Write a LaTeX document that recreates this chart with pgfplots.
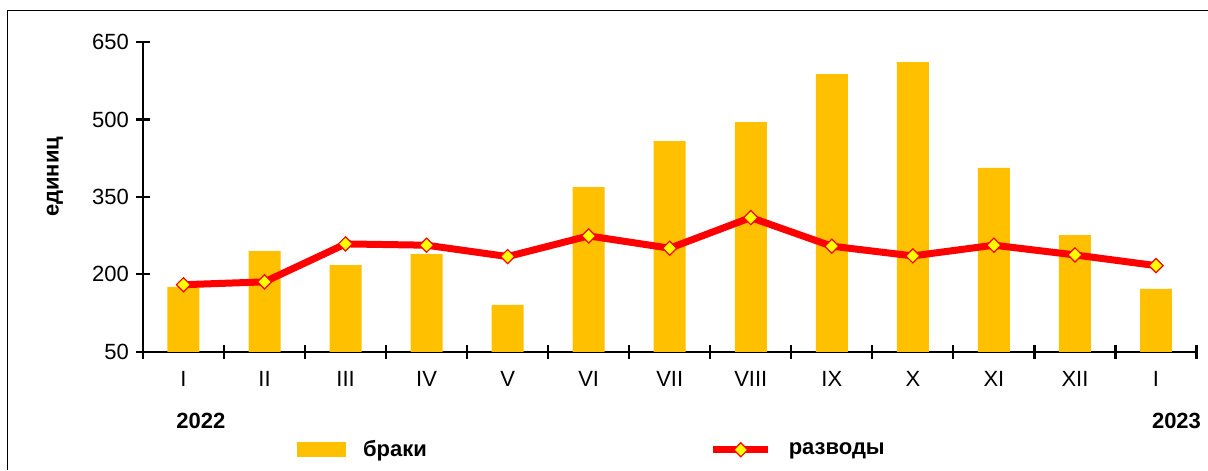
\documentclass[border=0pt]{standalone}
\usepackage{pgfplots}
\pgfplotsset{compat=1.18}
\usepackage{fontspec}
\setmainfont{Liberation Sans}
\definecolor{bargold}{HTML}{FFC000}
\definecolor{linered}{HTML}{FF0000}
\definecolor{markyellow}{HTML}{FFFF00}
\pgfplotsset{
  barlegend/.style={legend image code/.code={\fill[bargold] (0pt,-3.75pt) rectangle (24.5pt,3.75pt);}},
  linelegend/.style={legend image code/.code={\draw[mark repeat=2,mark phase=2,##1] plot coordinates {(0pt,0pt) (13.75pt,0pt) (27.5pt,0pt)};}},
}
\begin{document}
\begin{tikzpicture}
\path (0,0) rectangle (604pt,235pt);
\draw[line width=0.5pt] (3.6pt,0) -- (3.6pt,229.5pt) -- (604pt,229.5pt);
\begin{axis}[
  at={(71.5pt,59pt)}, anchor=south west,
  width=527pt, height=155pt, scale only axis,
  xmin=-0.5, xmax=12.5, ymin=50, ymax=650,
  axis lines*=left,
  axis line style={line width=1.2pt},
  every tick/.style={line width=1.1pt, black},
  tick align=center,
  major tick length=7pt,
  ytick={50,200,350,500,650},
  xtick={-0.5,0.5,...,12.5},
  xticklabels={},
  extra x ticks={0,1,2,3,4,5,6,7,8,9,10,11,12},
  extra x tick labels={I,II,III,IV,V,VI,VII,VIII,IX,X,XI,XII,I},
  extra x tick style={major tick length=0pt},
  /pgf/number format/assume math mode=true,
  tick label style={font=\fontsize{11}{13}\selectfont},
  x tick label style={yshift=-6pt},
  legend style={at={(rel axis cs:0.146,-0.316)}, anchor=west, draw=none,
    legend columns=2, inner sep=0pt, font=\bfseries\fontsize{11}{13}\selectfont,
    nodes={inner sep=0pt},
    /tikz/every odd column/.append style={column sep=8.5pt},
    /tikz/every even column/.append style={column sep=141.5pt}},
  legend cell align=left,
  clip=false,
]
\addplot[ybar, bar width=16pt, fill=bargold, draw=none, bar shift=0pt, barlegend]
  coordinates {(0,176) (1,245) (2,218) (3,239) (4,141) (5,369) (6,458) (7,495) (8,588) (9,611) (10,406) (11,276) (12,172)};
\addlegendentry{браки}
\addplot[linered, line width=3.5pt, mark=square*, mark size=2.5pt,
  mark options={rotate=45, fill=markyellow, draw=linered, line width=0.6pt}, linelegend]
  coordinates {(0,180) (1,185.5) (2,259) (3,256.5) (4,234.5) (5,274.5) (6,250.7) (7,310) (8,254.6) (9,235.8) (10,256.5) (11,237.7) (12,217)};
\addlegendentry{разводы}
\node[rotate=90, font=\bfseries\fontsize{11}{13}\selectfont] at (rel axis cs:-0.0835,0.565) {единиц};
\node[font=\bfseries\fontsize{11}{13}\selectfont] at (rel axis cs:0.055,-0.224) {2022};
\node[font=\bfseries\fontsize{11}{13}\selectfont] at (rel axis cs:0.981,-0.224) {2023};
\end{axis}
\end{tikzpicture}
\end{document}
